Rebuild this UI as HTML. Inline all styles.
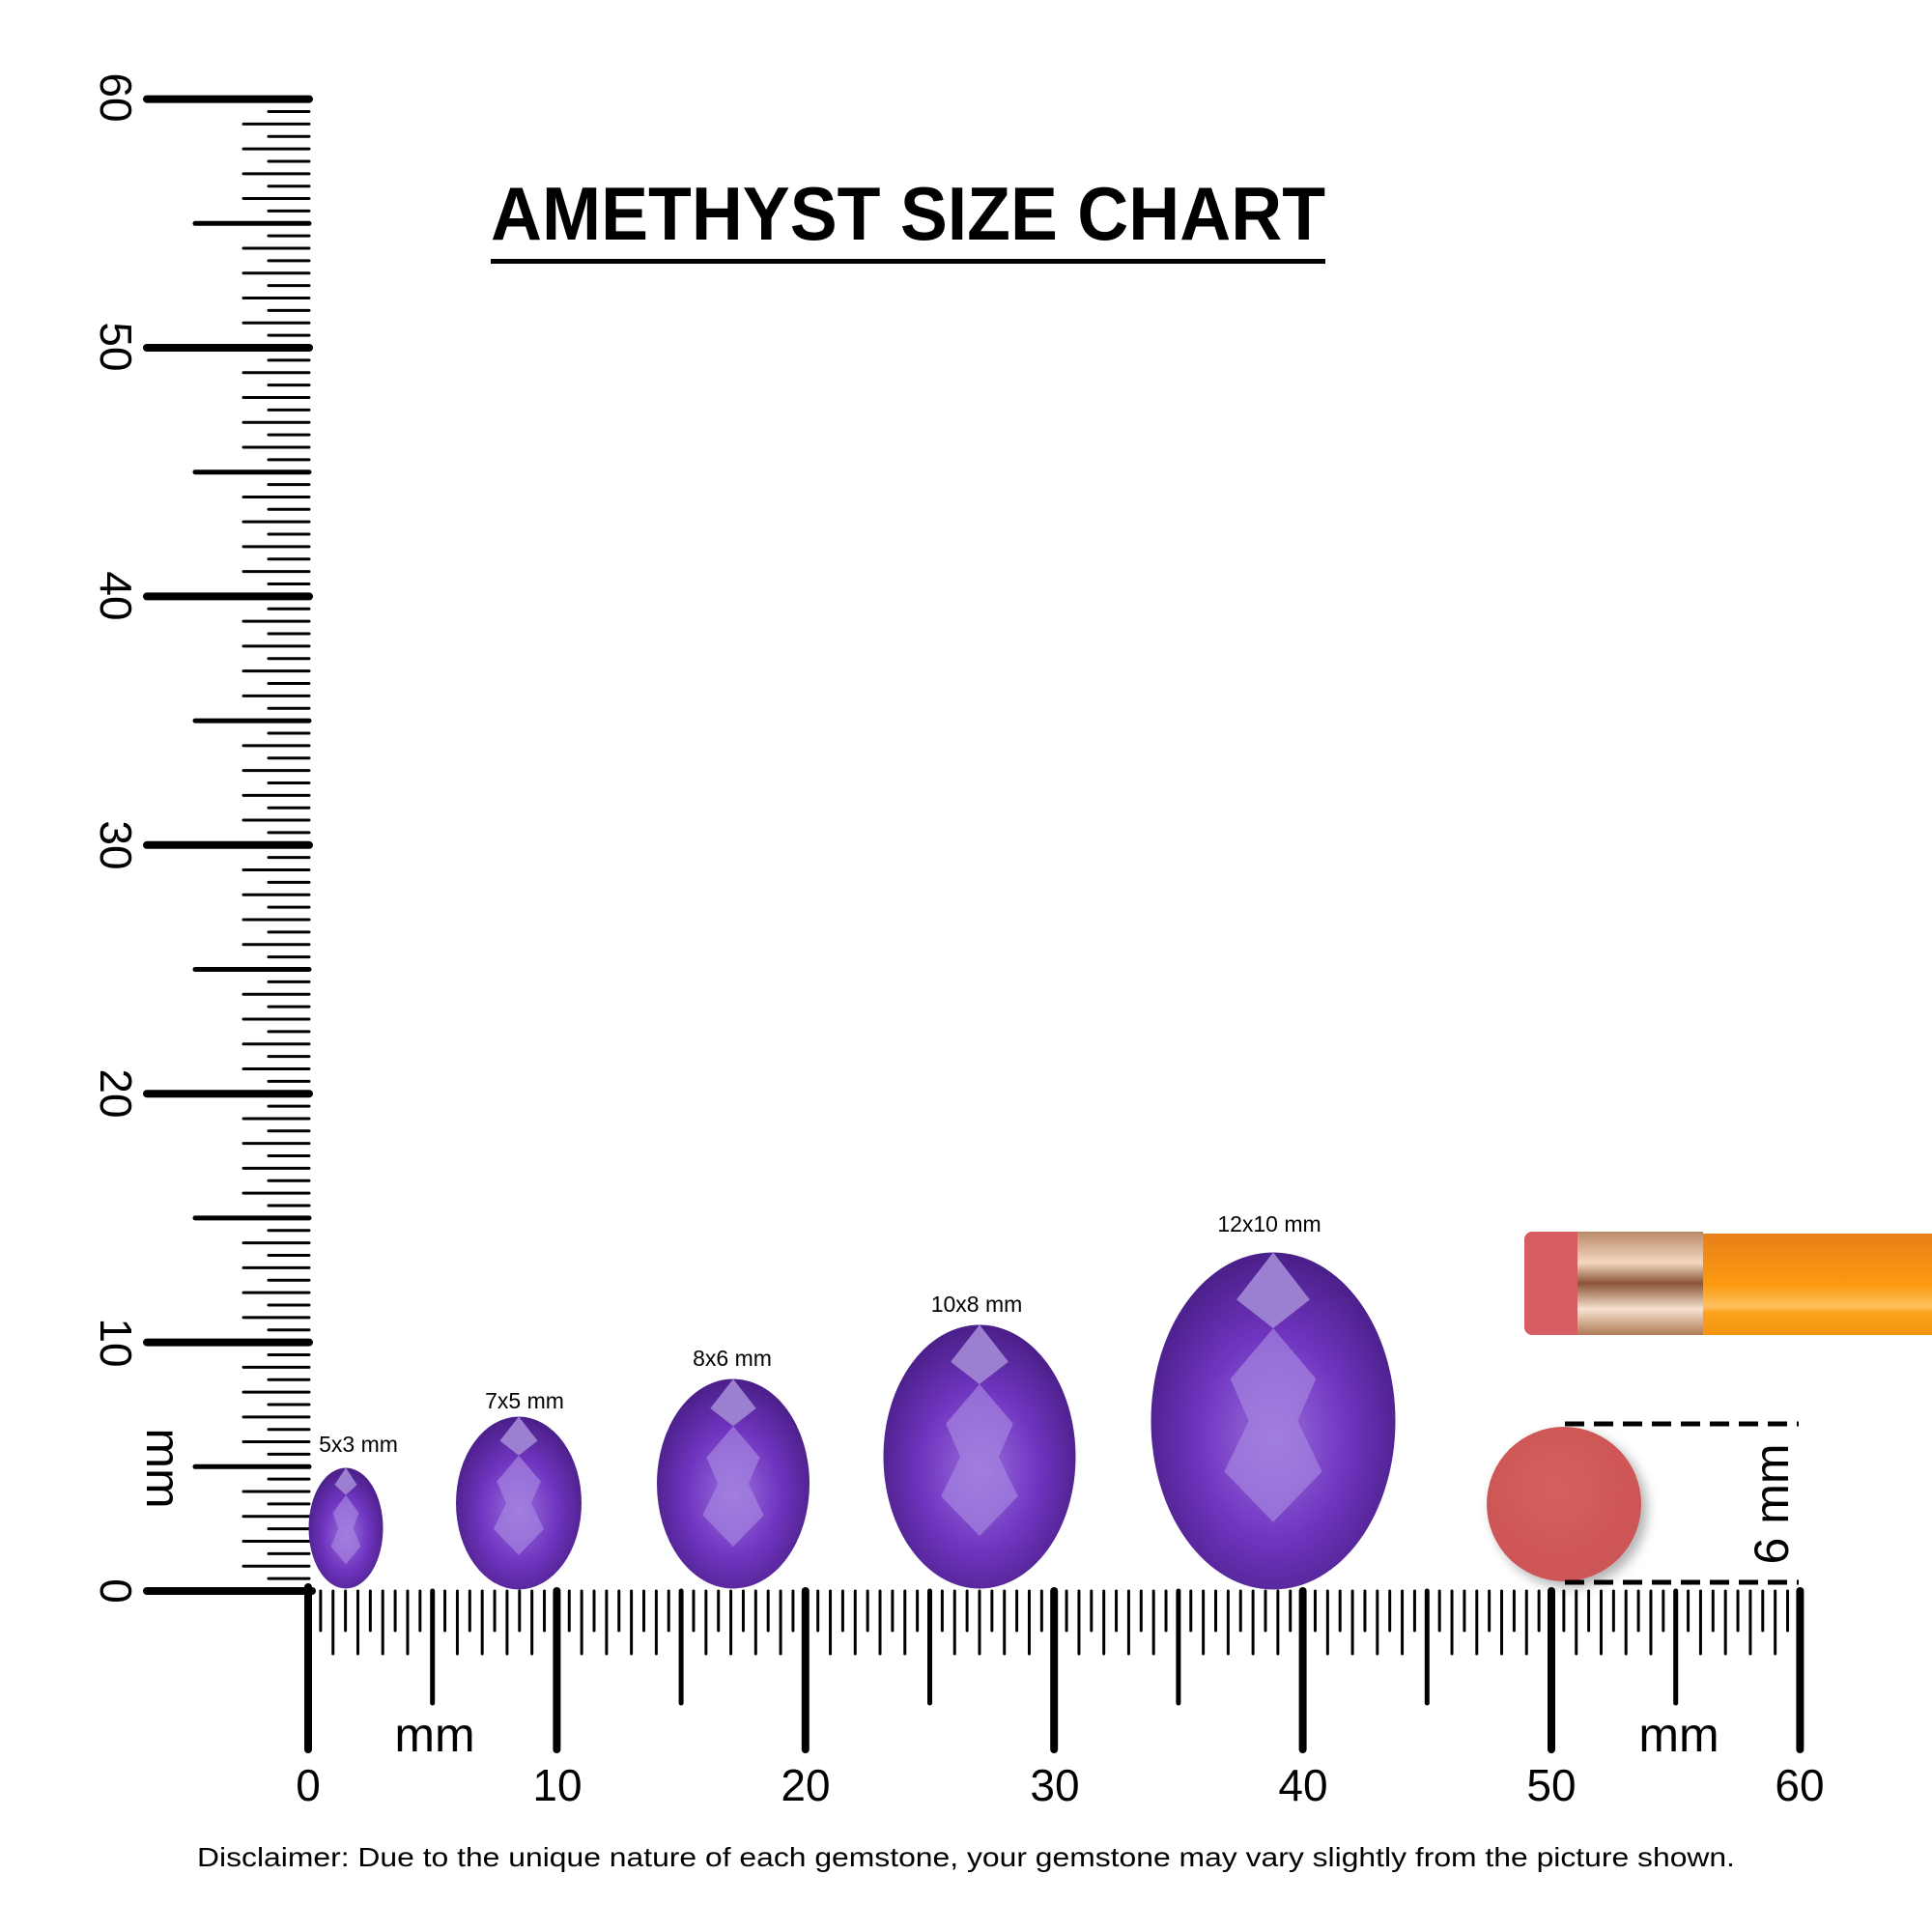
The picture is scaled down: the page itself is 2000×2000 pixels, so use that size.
<!DOCTYPE html>
<html><head><meta charset="utf-8"><style>
html,body{margin:0;padding:0;background:#fff;width:2000px;height:2000px;overflow:hidden}
text{font-family:"Liberation Sans",sans-serif}
</style></head><body>
<svg id="s" width="2000" height="2000" viewBox="0 0 2000 2000" xmlns="http://www.w3.org/2000/svg">
<defs>
<radialGradient id="g" cx="50%" cy="55%" r="55%">
<stop offset="0" stop-color="#9a70dc"/><stop offset="0.55" stop-color="#7035c0"/><stop offset="1" stop-color="#4a1f88"/>
</radialGradient>
<radialGradient id="er" cx="45%" cy="40%" r="60%"><stop offset="0" stop-color="#d4605e"/><stop offset="1" stop-color="#cc5454"/></radialGradient>
<linearGradient id="fer" x1="0" y1="0" x2="0" y2="1"><stop offset="0" stop-color="#b98a66"/><stop offset="0.3" stop-color="#f4d8c0"/><stop offset="0.5" stop-color="#8a5535"/><stop offset="0.75" stop-color="#f6e2cf"/><stop offset="1" stop-color="#b07a55"/></linearGradient>
<linearGradient id="or" x1="0" y1="0" x2="0" y2="1"><stop offset="0" stop-color="#e8801a"/><stop offset="0.5" stop-color="#fb9a10"/><stop offset="0.72" stop-color="#ffc060"/><stop offset="0.78" stop-color="#fca21c"/><stop offset="1" stop-color="#f2950e"/></linearGradient>
<filter id="sh" x="-30%" y="-30%" width="160%" height="160%"><feDropShadow dx="6" dy="6" stdDeviation="6" flood-opacity="0.3"/></filter>
</defs>
<g id="ticks" stroke="#000"></g>
<line x1="152" y1="1647" x2="323" y2="1647" stroke="#000" stroke-width="8" stroke-linecap="round"/>
<line x1="319" y1="1643" x2="319" y2="1811" stroke="#000" stroke-width="8" stroke-linecap="round"/>
<g font-size="46" fill="#000">
<text transform="translate(104,1647) rotate(90)" text-anchor="middle">0</text>
<text transform="translate(104,1390) rotate(90)" text-anchor="middle">10</text>
<text transform="translate(104,1132) rotate(90)" text-anchor="middle">20</text>
<text transform="translate(104,875) rotate(90)" text-anchor="middle">30</text>
<text transform="translate(104,617) rotate(90)" text-anchor="middle">40</text>
<text transform="translate(104,359) rotate(90)" text-anchor="middle">50</text>
<text transform="translate(104,101) rotate(90)" text-anchor="middle">60</text>
<text transform="translate(152,1520) rotate(90)" text-anchor="middle" font-size="50">mm</text>
<text x="319" y="1864" text-anchor="middle">0</text>
<text x="577" y="1864" text-anchor="middle">10</text>
<text x="834" y="1864" text-anchor="middle">20</text>
<text x="1092" y="1864" text-anchor="middle">30</text>
<text x="1349" y="1864" text-anchor="middle">40</text>
<text x="1606" y="1864" text-anchor="middle">50</text>
<text x="1863" y="1864" text-anchor="middle">60</text>
<text x="450" y="1813" text-anchor="middle" font-size="50">mm</text>
<text x="1738" y="1813" text-anchor="middle" font-size="50">mm</text>
</g>
<text x="940" y="248" text-anchor="middle" font-size="78" font-weight="bold" textLength="864" lengthAdjust="spacingAndGlyphs">AMETHYST SIZE CHART</text>
<rect x="508" y="268" width="864" height="5" fill="#000"/>
<g id="gems"></g>
<g font-size="23" text-anchor="middle">
<text x="371" y="1503">5x3 mm</text>
<text x="543" y="1458">7x5 mm</text>
<text x="758" y="1414">8x6 mm</text>
<text x="1011" y="1358">10x8 mm</text>
<text x="1314" y="1275">12x10 mm</text>
</g>
<rect x="1578" y="1275" width="64" height="107" rx="8" fill="#d65e62"/>
<rect x="1633" y="1275" width="130" height="107" fill="url(#fer)"/>
<rect x="1763" y="1277" width="240" height="105" fill="url(#or)"/>
<circle cx="1619" cy="1557" r="80" fill="url(#er)" filter="url(#sh)"/>
<line x1="1620" y1="1474" x2="1862" y2="1474" stroke="#000" stroke-width="5" stroke-dasharray="20,10"/>
<line x1="1620" y1="1638" x2="1862" y2="1638" stroke="#000" stroke-width="5" stroke-dasharray="20,10"/>
<text transform="translate(1851,1557) rotate(-90)" text-anchor="middle" font-size="50">6 mm</text>
<text x="1000" y="1932" text-anchor="middle" font-size="28" textLength="1592" lengthAdjust="spacingAndGlyphs">Disclaimer: Due to the unique nature of each gemstone, your gemstone may vary slightly from the picture shown.</text>
</svg>
<script>
var NS="http://www.w3.org/2000/svg",t=document.getElementById('ticks');
function L(x1,y1,x2,y2,w){var l=document.createElementNS(NS,'line');l.setAttribute('x1',x1);l.setAttribute('y1',y1);l.setAttribute('x2',x2);l.setAttribute('y2',y2);l.setAttribute('stroke-width',w);l.setAttribute('stroke-linecap','round');t.appendChild(l);}
var u=257.4/10;
for(var i=1;i<=120;i++){var mm=i/2,y=1647-mm*u;
 if(i%20==0)L(152,y,320,y,8);else if(i%10==0)L(202,y,320,y,5);else if(i%2==0)L(252,y,320,y,3);else L(278,y,320,y,3);}
for(var i=1;i<=120;i++){var mm=i/2,x=319+mm*u;
 if(i%20==0)L(x,1647,x,1811,8);else if(i%10==0)L(x,1647,x,1763,5);else if(i%2==0)L(x,1647,x,1712,3);else L(x,1647,x,1688,3);}
var g=document.getElementById('gems');
[[358,1582,77,125],[537,1556,130,179],[759,1536,158,217],[1014,1508,199,273],[1318,1471,253,349]].forEach(function(a){
 var cx=a[0],cy=a[1],rx=a[2]/2,ry=a[3]/2;
 var e=document.createElementNS(NS,'ellipse');e.setAttribute('cx',cx);e.setAttribute('cy',cy);e.setAttribute('rx',rx);e.setAttribute('ry',ry);e.setAttribute('fill','url(#g)');g.appendChild(e);
 var p=document.createElementNS(NS,'polygon');
 var pts=[[0,-0.55],[0.35,-0.25],[0.2,0],[0.4,0.3],[0,0.6],[-0.4,0.3],[-0.2,0],[-0.35,-0.25]];
 p.setAttribute('points',pts.map(function(q){return (cx+q[0]*rx)+','+(cy+q[1]*ry)}).join(' '));
 p.setAttribute('fill','#a584e0');p.setAttribute('opacity','0.7');g.appendChild(p);
 var tp=document.createElementNS(NS,'polygon');
 tp.setAttribute('points',[[0,-1],[0.3,-0.72],[0,-0.55],[-0.3,-0.72]].map(function(q){return (cx+q[0]*rx)+','+(cy+q[1]*ry)}).join(' '));
 tp.setAttribute('fill','#9b7fd0');g.appendChild(tp);
});
</script>
</body></html>
